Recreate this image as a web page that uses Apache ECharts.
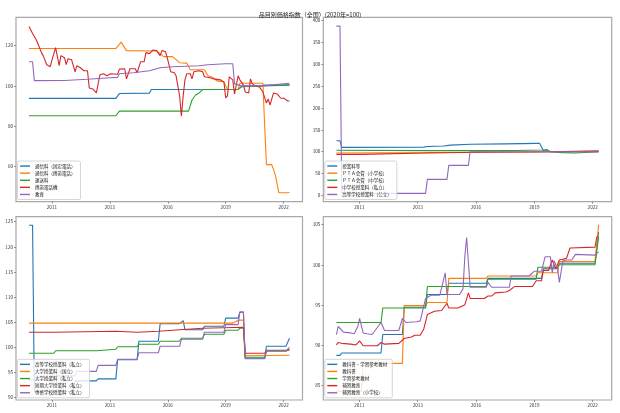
<!DOCTYPE html>
<html><head><meta charset="utf-8">
<script src="https://cdn.jsdelivr.net/npm/echarts@6/dist/echarts.min.js"></script>
<style>html,body{margin:0;padding:0;background:#fff}#c{width:620px;height:413px}</style>
</head><body><div id="c"></div><script>
// x values are month indices counted from 2010-01 (0) to 2022-04 (147)
const titleText = '品目別価格指数（全国）(2020年=100)';
const xTickPos = [12.9, 45.6, 78.3, 111.0, 143.7];
const xTickLabels = ['2011', '2013', '2016', '2019', '2022'];

// Panel 1
const p1Names = ['通信料（固定電話）', '通信料（携帯電話）', '運送料', '携帯電話機', '教育'];
const p1Ticks = [60, 80, 100, 120];
const fixedPhone = [[0,93.8],[49,93.8],[51,96.2],[68,96.4],[69,98.2],[118,98.3],[120,99.8],[131,100],[133,100.4],[147,100.5]];
const mobileFee = [[0,118.5],[49,118.5],[52,121.7],[55,117.5],[72,117.3],[74,116],[76,114.5],[81,114.5],[83,113],[85,111.5],[89,111.3],[91,108],[99,108],[101,105],[104,104],[106,102.5],[110,102],[112,98.2],[118,98.2],[119,101.3],[132,101.3],[133,80],[134,61],[137,61],[139,56],[141,47],[146,47],[147,47.2]];
const delivery = [[0,85.2],[49,85.2],[51,87.5],[90,87.5],[92,93],[94,95.5],[96,96.5],[98,98.2],[118,98.3],[120,99.6],[132,100],[147,100.3]];
const handset = [[0,129.5],[2,126],[4,123],[5,121],[7,116.5],[8,115],[10,110.5],[12,109.5],[13,113],[15,119],[16,118.5],[17,110],[18,115],[20,114],[21,110.5],[22,113.5],[24,113],[26,107],[27,110],[29,109],[31,107.5],[33,107.5],[34,99],[36,98.5],[38,96.5],[40,105.5],[42,106],[44,105],[46,106],[50,105.8],[51,108.3],[54,108.5],[55,103.5],[57,108.5],[60,108.5],[61,106.5],[63,112],[65,112],[66,116.5],[68,116],[70,117.8],[72,117.5],[74,115],[75,117.5],[77,117],[78,114],[80,107],[82,106.5],[83,105],[85,95],[86,85],[87,95],[88,103],[89,106],[91,106],[92,103.5],[93,107],[96,107.5],[98,107],[99,104.5],[102,104],[104,103.5],[108,103],[110,102],[111,94],[112,95],[113,104.5],[115,103],[116,96],[118,105],[119,103],[121,100.5],[122,97],[124,96.5],[125,103.5],[126,101],[128,100],[130,99.5],[132,97],[134,91.5],[135,93.5],[136,90.5],[138,96.5],[140,96],[141,95],[142,94],[144,93.8],[146,92.5],[147,92.5]];
const education = [[0,112],[2,112],[3,102.6],[20,102.7],[33,103.3],[46,104],[50,104.2],[51,106],[59,106.5],[68,107.5],[74,109],[81,109.5],[96,110],[101,110.5],[111,111],[115,111],[116,101],[118,100.5],[120,100],[132,100],[147,101.3]];

// Panel 2
const p2Names = ['授業料等', 'ＰＴＡ会費（小学校）', 'ＰＴＡ会費（中学校）', '中学校授業料（私立）', '高等学校授業料（公立）'];
const p2Ticks = [0, 50, 100, 150, 200, 250, 300, 350, 400];
const tuitionAll = [[0,125],[2,125],[3,110],[49,110.5],[51,112],[60,113],[64,115],[75,117],[95,118],[112,119],[114,119],[116,103],[118,102],[120,100],[147,100]];
const ptaElem = [[0,97],[50,98],[51,99],[90,99.5],[120,100],[147,100.5]];
const ptaJunior = [[0,103.5],[50,102.5],[100,103],[116,104],[118,105],[120,100],[127,98],[134,97],[135,100],[147,100]];
const juniorPrivate = [[0,94],[14,94],[15,96.5],[50,97],[51,98],[80,99],[110,99.5],[120,100],[147,102]];
const highPublic = [[0,386],[2,386],[3,5.3],[50,5.3],[51,37.2],[62,37.2],[63,69],[74,69],[75,100],[147,100]];

// Panel 3
const p3Names = ['高等学校授業料（私立）', '大学授業料（国立）', '大学授業料（私立）', '短期大学授業料（私立）', '専修学校授業料（私立）'];
const p3Ticks = [90, 95, 100, 105, 110, 115, 120, 125];
const highPrivate = [[0,124.3],[2,124.3],[3,91.2],[25,91.2],[26,93.3],[38,93.3],[39,93.7],[49,93.7],[50,97.5],[61,97.5],[62,101.2],[73,101.2],[74,104.7],[85,104.7],[87,105.3],[88,103.5],[98,103.5],[99,104.2],[110,104.2],[111,105.8],[118,105.8],[119,107],[121,107],[122,97.8],[133,97.8],[134,100.2],[145,100.2],[147,101.8]];
const univNational = [[0,104.8],[115,104.8],[118,105.4],[121,105.4],[122,98.3],[147,98.4]];
const univPrivate = [[0,98.8],[14,98.8],[15,99.3],[38,99.3],[39,99.6],[49,99.6],[50,100.1],[61,100.1],[62,100.6],[73,100.6],[74,101.2],[85,101.2],[86,101.8],[98,101.8],[99,102.6],[110,102.6],[111,103.4],[118,103.4],[119,103.8],[121,103.8],[122,98],[133,98],[134,99.2],[145,99.2],[147,99.6]];
const juniorCollege = [[0,103],[14,103],[15,103.2],[49,103.2],[50,103],[61,103],[62,103.2],[73,103.2],[74,103.5],[85,103.5],[86,103.8],[98,103.8],[99,104],[121,104],[122,98.8],[133,98.8],[134,99.4],[147,99.4]];
const vocational = [[0,93.5],[14,93.5],[15,94.3],[26,94.3],[27,95.2],[38,95.2],[39,96.4],[49,96.4],[50,97.6],[61,97.6],[62,98.9],[73,98.9],[74,100.2],[85,100.2],[86,101.6],[98,101.6],[99,103],[110,103],[111,104.5],[118,104.5],[119,107],[121,107],[122,97.7],[133,97.7],[134,99.3],[145,99.3],[147,100]];

// Panel 4
const p4Names = ['教科書・学習参考教材', '教科書', '学習参考教材', '補習教育', '補習教育（小学校）'];
const p4Ticks = [85, 90, 95, 100, 105];
const bookAll = [[0,88.7],[2,88.7],[3,89],[25,89],[26,91.3],[37,91.3],[38,94.7],[50,94.7],[51,96.3],[62,96.3],[63,97.7],[84,97.7],[85,98.3],[115,98.3],[116,99.5],[124,99.5],[125,100.2],[145,100.2],[147,104.1]];
const textbook = [[0,84.2],[14,84.2],[15,87.7],[37,87.7],[38,94.9],[50,94.9],[51,95.3],[62,95.3],[63,98.3],[84,98.3],[85,98.6],[112,98.6],[113,99],[124,99],[125,100.4],[145,100.4],[147,105]];
const studyAid = [[0,92.8],[25,92.8],[26,94.6],[50,94.6],[51,97.3],[84,97.3],[85,98.2],[112,98.2],[113,99.7],[124,99.7],[125,100],[145,100],[147,103.4]];
const cramSchool = [[0,90],[1,90.3],[3,90.2],[8,90.1],[11,90],[13,90.5],[15,89.9],[23,89.9],[25,90.3],[27,90.1],[35,90.2],[38,90.8],[42,91],[44,91.2],[47,91.2],[49,92],[51,93.8],[55,94.2],[59,94.3],[62,95.2],[63,94.6],[68,94.6],[70,94.8],[72,95],[74,96.5],[75,95.8],[83,95.8],[85,96.1],[87,96.1],[89,96.5],[95,96.6],[97,96.8],[98,96.8],[100,97.3],[110,97.3],[112,98],[115,98],[116,99.3],[119,99.3],[121,100.6],[123,99.5],[125,100.6],[129,100.8],[131,102.1],[145,102.2],[146,103.5],[147,103.5]];
const cramElem = [[0,91.3],[1,92.3],[2,92.2],[4,91.6],[8,91.5],[10,91.4],[11,91.3],[12,92.3],[13,93.3],[15,91.5],[17,91.4],[20,91.3],[21,91.1],[25,92.8],[27,91.8],[35,91.8],[37,93.3],[39,92.8],[45,92.9],[47,93],[50,95.8],[53,96.2],[58,96.2],[61,99],[62,96.3],[69,96.3],[71,97],[72,101],[73,103.4],[74,103.3],[75,97.2],[84,97.2],[85,97.8],[87,97.2],[97,97.2],[98,98.6],[108,98.6],[111,99.2],[115,99.2],[117,101],[120,101],[121,99],[122,100.5],[124,99.5],[125,97.8],[127,100.5],[129,100.6],[132,100.6],[134,101.3],[145,101.2],[147,101.6]];

const colors = ['#1f77b4', '#ff7f0e', '#2ca02c', '#d62728', '#9467bd'];
const FONT = 'Noto Sans CJK JP';

const panels = [
  {names: p1Names, data: [fixedPhone, mobileFee, delivery, handset, education], ticks: p1Ticks, ymin: 42.6, ymax: 134.0, left: 16, right: 302.5, top: 17.3, bottom: 201.7},
  {names: p2Names, data: [tuitionAll, ptaElem, ptaJunior, juniorPrivate, highPublic], ticks: p2Ticks, ymin: -13.7, ymax: 406, left: 323.3, right: 611.7, top: 17.3, bottom: 201.7},
  {names: p3Names, data: [highPrivate, univNational, univPrivate, juniorCollege, vocational], ticks: p3Ticks, ymin: 89.5, ymax: 126.0, left: 16, right: 302.5, top: 216.7, bottom: 400},
  {names: p4Names, data: [bookAll, textbook, studyAid, cramSchool, cramElem], ticks: p4Ticks, ymin: 83.13, ymax: 106.0, left: 323.3, right: 611.7, top: 216.7, bottom: 400}
];

const W = 620, H = 413;
const grids = [], xAxes = [], yAxes = [], legends = [], series = [];
panels.forEach((p, i) => {
  grids.push({left: p.left, top: p.top, width: p.right - p.left, height: p.bottom - p.top,
    show: true, borderColor: '#a8a8a8', borderWidth: 1.2, backgroundColor: '#fff', containLabel: false});
  xAxes.push({type: 'value', gridIndex: i, position: 'bottom', min: -7.35, max: 154.35,
    axisLine: {show: false, onZero: false}, splitLine: {show: false},
    axisTick: {show: true, inside: false, customValues: xTickPos, length: 2, lineStyle: {color: '#555', width: 0.6}},
    axisLabel: {customValues: xTickPos, margin: 3, fontSize: 4.6, color: '#333', fontFamily: FONT,
      formatter: v => { const k = xTickPos.findIndex(t => Math.abs(t - v) < 0.01); return k >= 0 ? xTickLabels[k] : ''; }}});
  yAxes.push({type: 'value', gridIndex: i, position: 'left', min: p.ymin, max: p.ymax,
    axisLine: {show: false, onZero: false}, splitLine: {show: false},
    axisTick: {show: true, inside: false, customValues: p.ticks, length: 2, lineStyle: {color: '#555', width: 0.6}},
    axisLabel: {customValues: p.ticks, margin: 3, fontSize: 4.6, color: '#333', fontFamily: FONT}});
  legends.push({data: p.names, orient: 'vertical', left: p.left + 1.5, bottom: H - p.bottom + 2.2,
    icon: 'rect', itemWidth: 10, itemHeight: 1.4, itemGap: 0, padding: [1.5, 5, 1.5, 2.5],
    backgroundColor: 'rgba(255,255,255,0.8)', borderColor: '#cccccc', borderWidth: 0.8, borderRadius: 1.5,
    textStyle: {fontSize: 4.5, lineHeight: 7.1, color: '#222', fontFamily: FONT}, selectedMode: false});
  p.names.forEach((n, j) => {
    series.push({name: n, type: 'line', xAxisIndex: i, yAxisIndex: i, data: p.data[j],
      symbol: 'none', showSymbol: false, animation: false,
      lineStyle: {width: 1.1, color: colors[j]}, itemStyle: {color: colors[j]}});
  });
});

const chart = echarts.init(document.getElementById('c'), null, {renderer: 'canvas'});
chart.setOption({
  animation: false,
  backgroundColor: '#fff',
  title: {text: titleText, left: 'center', top: 7, textStyle: {fontSize: 6, fontWeight: 'normal', color: '#222', fontFamily: FONT}},
  grid: grids, xAxis: xAxes, yAxis: yAxes, legend: legends, series: series
});
</script></body></html>
